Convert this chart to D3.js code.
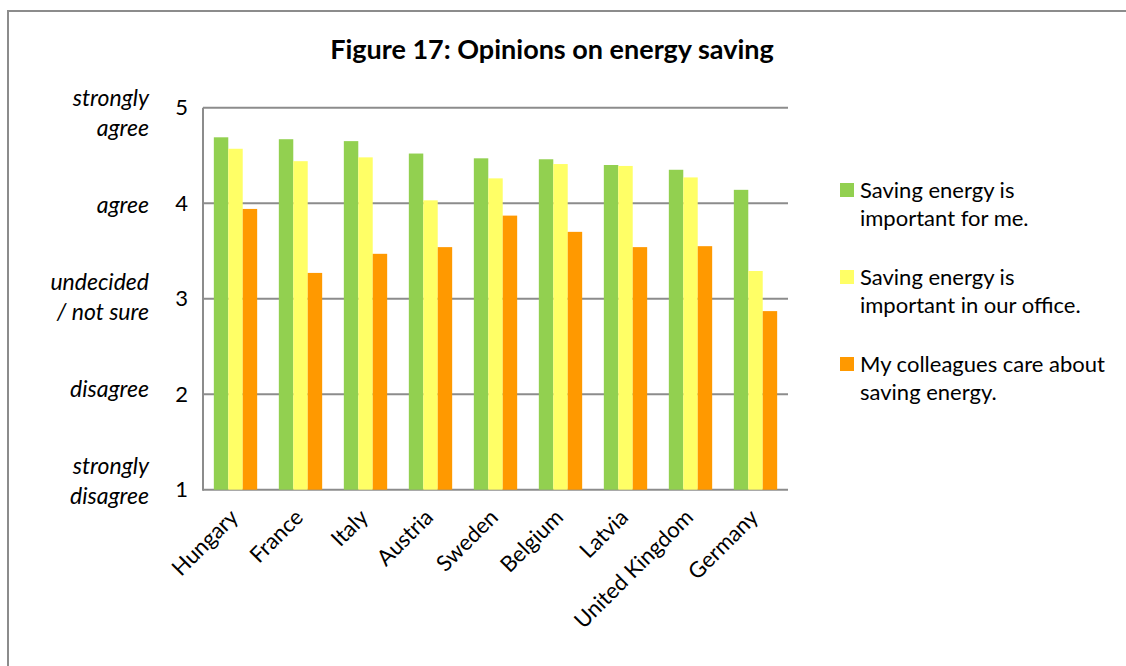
<!DOCTYPE html>
<html>
<head>
<meta charset="utf-8">
<script src="https://cdn.jsdelivr.net/npm/d3@7"></script>
<style>
  html, body { margin: 0; padding: 0; background: #fff; }
  svg { display: block; font-family: Lato, "Open Sans", sans-serif; }
</style>
</head>
<body>
<svg id="chart" width="1126" height="666"></svg>
<script>
// Survey results: mean agreement on a 1–5 scale per country
const countries = ["Hungary", "France", "Italy", "Austria", "Sweden", "Belgium", "Latvia", "United Kingdom", "Germany"];
const importantForMe = [4.69, 4.67, 4.65, 4.52, 4.47, 4.46, 4.40, 4.35, 4.14];
const importantInOffice = [4.57, 4.44, 4.48, 4.03, 4.26, 4.41, 4.39, 4.27, 3.29];
const colleaguesCare = [3.94, 3.27, 3.47, 3.54, 3.87, 3.70, 3.54, 3.55, 2.87];

const seriesNames = [
  ["Saving energy is", "important for me."],
  ["Saving energy is", "important in our office."],
  ["My colleagues care about", "saving energy."]
];
const seriesColors = ["#92d050", "#ffff66", "#ff9900"];
const yTicks = [1, 2, 3, 4, 5];
const yTickNames = [["strongly", "disagree"], ["disagree"], ["undecided", "/ not sure"], ["agree"], ["strongly", "agree"]];

const seriesValues = [importantForMe, importantInOffice, colleaguesCare];

const svg = d3.select("#chart");

// chart frame (top and left edges)
svg.append("line").attr("x1", 8).attr("x2", 1126).attr("y1", 11).attr("y2", 11)
  .attr("stroke", "#8c8c8c").attr("stroke-width", 2);
svg.append("line").attr("x1", 8).attr("x2", 8).attr("y1", 10).attr("y2", 666)
  .attr("stroke", "#8c8c8c").attr("stroke-width", 2);

const plot = { left: 203, right: 788, top: 107.7, bottom: 489.7 };

const x = d3.scaleBand().domain(countries).range([plot.left, plot.right]).paddingInner(0).paddingOuter(0);
const y = d3.scaleLinear().domain([1, 5]).range([plot.bottom, plot.top]);
// verbal scale text block sits slightly compressed against the axis
const yLab = d3.scaleLinear().domain([1, 5]).range([481, 113]);

// group width = band / 1.5 (50% gap)
const groupW = x.bandwidth() / 1.5;
const xs = d3.scaleBand().domain([0, 1, 2]).range([0, groupW]);

// gridlines
svg.append("g").selectAll("line").data(yTicks).join("line")
  .attr("x1", plot.left).attr("x2", plot.right)
  .attr("y1", d => y(d)).attr("y2", d => y(d))
  .attr("stroke", "#8c8c8c").attr("stroke-width", 2);

// bars
const groups = svg.append("g").selectAll("g").data(countries).join("g")
  .attr("transform", c => `translate(${x(c) + (x.bandwidth() - groupW) / 2},0)`);
groups.selectAll("rect").data((c, i) => seriesValues.map((s, k) => ({ k, v: s[i] }))).join("rect")
  .attr("x", d => xs(d.k))
  .attr("width", xs.bandwidth())
  .attr("y", d => y(d.v))
  .attr("height", d => y(1) - y(d.v))
  .attr("fill", d => seriesColors[d.k]);

// left axis line
svg.append("line").attr("x1", plot.left).attr("x2", plot.left)
  .attr("y1", plot.top).attr("y2", plot.bottom + 1)
  .attr("stroke", "#8c8c8c").attr("stroke-width", 2);

// numeric y tick labels
const yAxis = d3.axisLeft(y).tickValues(yTicks).tickSize(0).tickPadding(15).tickFormat(d3.format("d"));
const ya = svg.append("g").attr("transform", `translate(${plot.left},0)`).call(yAxis);
ya.select(".domain").remove();
ya.selectAll("text").attr("font-size", 22).attr("fill", "#000")
  .attr("font-family", "Lato, sans-serif");

// verbal scale labels
const vlab = svg.append("g").selectAll("text").data(yTicks).join("text")
  .attr("x", 149).attr("text-anchor", "end")
  .attr("font-size", 23).attr("font-style", "italic").attr("fill", "#000");
vlab.each(function (d, i) {
  const lines = yTickNames[i];
  const t = d3.select(this);
  const lh = 30;
  const y0 = yLab(d) - (lines.length - 1) * lh / 2 + 8;
  lines.forEach((ln, j) => t.append("tspan").attr("x", 149).attr("y", y0 + j * lh).text(ln));
});

// category labels, rotated
svg.append("g").selectAll("text").data(countries).join("text")
  .attr("text-anchor", "end")
  .attr("font-size", 22).attr("fill", "#000")
  .attr("transform", c => `translate(${x(c) + x.bandwidth() / 2 + 4},${plot.bottom + 29}) rotate(-45)`)
  .text(c => c);

// title
svg.append("text").attr("x", 552).attr("y", 59).attr("text-anchor", "middle")
  .attr("font-size", 27).attr("font-weight", "bold").attr("fill", "#000")
  .text("Figure 17: Opinions on energy saving");

// legend
const legend = svg.append("g").selectAll("g").data(seriesNames).join("g")
  .attr("transform", (d, i) => `translate(840,${183 + i * 87})`);
legend.append("rect").attr("width", 14).attr("height", 14).attr("fill", (d, i) => seriesColors[i]);
legend.append("text").attr("font-size", 22).attr("fill", "#000")
  .each(function (d) {
    const t = d3.select(this);
    d.forEach((ln, j) => t.append("tspan").attr("x", 20).attr("y", 15 + j * 28).text(ln));
  });
</script>
</body>
</html>
